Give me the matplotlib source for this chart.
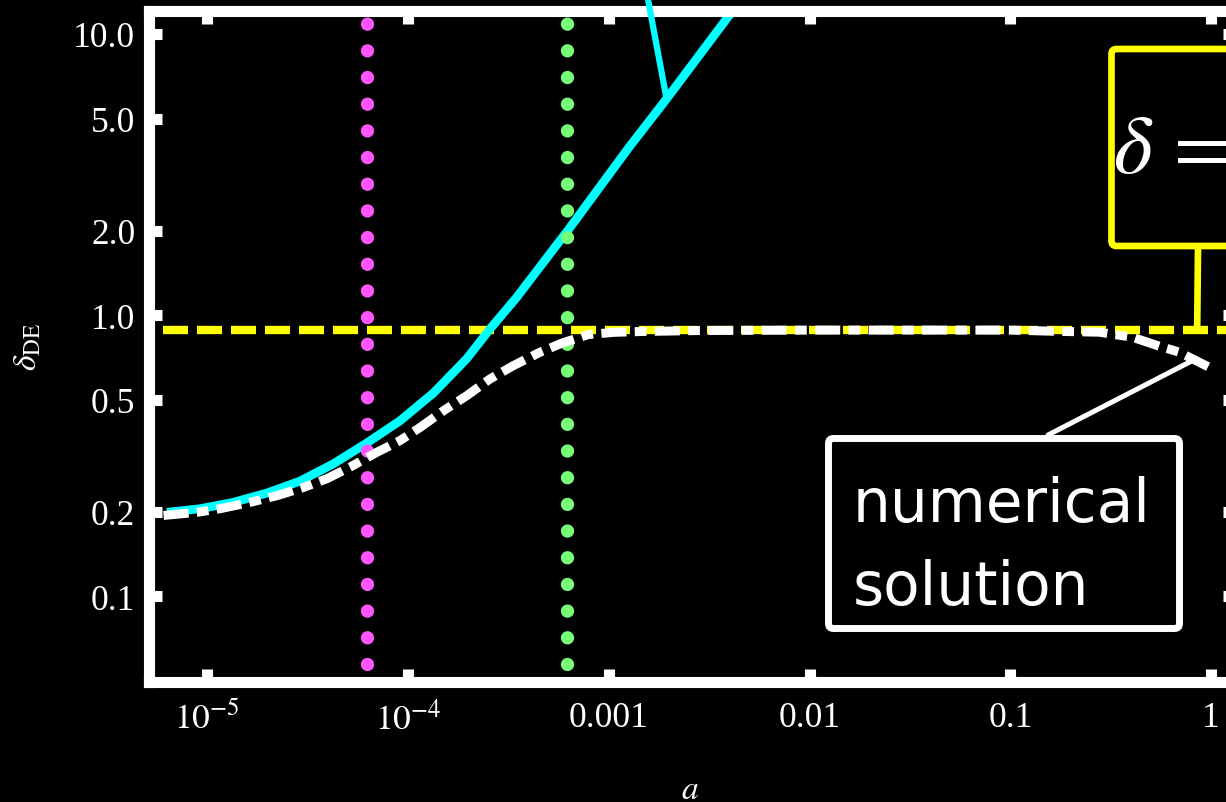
import matplotlib
matplotlib.use('Agg')
import matplotlib.pyplot as plt
from matplotlib.patches import FancyBboxPatch
from matplotlib.ticker import NullLocator

plt.rcParams['font.family'] = 'Liberation Serif'
plt.rcParams['mathtext.fontset'] = 'stix'

# attractor (analytic) approximation
a_approx = [6.3e-6, 9.23e-6, 1.35e-5, 1.98e-5, 2.90e-5, 4.25e-5, 6.23e-5, 9.12e-5,
            1.34e-4, 1.96e-4, 2.56e-4, 3.48e-4, 5.08e-4, 6.25e-4, 9.0e-4,
            1.26e-3, 1.94e-3, 3.96e-3, 4.49e-3]
delta_approx = [0.199, 0.205, 0.216, 0.233, 0.257, 0.296, 0.351, 0.421,
                0.529, 0.700, 0.893, 1.158, 1.65, 2.00, 2.85,
                3.95, 5.88, 11.6, 13.1]

# numerical solution
a_num = [6.06e-6, 8.89e-6, 1.16e-5, 1.64e-5, 2.22e-5, 3.02e-5, 3.94e-5, 5.14e-5,
         6.98e-5, 9.12e-5, 1.15e-4, 1.50e-4, 1.96e-4, 2.56e-4, 3.34e-4, 4.54e-4,
         5.86e-4, 7.89e-4, 1.06e-3, 1.46e-3, 2.84e-3, 1.0e-2, 0.1, 0.162, 0.277,
         0.405, 0.551, 0.693, 0.977]
delta_num = [0.194, 0.199, 0.205, 0.216, 0.228, 0.244, 0.262, 0.288,
             0.325, 0.358, 0.399, 0.457, 0.517, 0.593, 0.661, 0.738,
             0.796, 0.853, 0.869, 0.875, 0.882, 0.885, 0.885, 0.877, 0.870,
             0.835, 0.776, 0.739, 0.653]

# constant delta level
a_const = [6.0e-6, 1.5]
delta_const = 0.885

# transition epochs
a_magenta = 6.23e-5
a_green = 6.22e-4

xticks = [1e-5, 1e-4, 1e-3, 1e-2, 1e-1, 1]
xticklabels = [r'$10^{-5}$', r'$10^{-4}$', '0.001', '0.01', '0.1', '1']
yticks = [0.1, 0.2, 0.5, 1.0, 2.0, 5.0, 10.0]
yticklabels = ['0.1', '0.2', '0.5', '1.0', '2.0', '5.0', '10.0']

W, H, DPI = 1226, 803, 100


def fpos(x, y):
    # pixel position from top-left -> figure fraction
    return x / W, 1 - y / H


fig = plt.figure(figsize=(W / DPI, H / DPI), dpi=DPI, facecolor='black')
left, right, top, bottom = 148.5, 1236, 11.7, 682.5
ax = fig.add_axes([left / W, 1 - bottom / H, (right - left) / W, (bottom - top) / H])
ax.set_facecolor('black')
ax.set_xscale('log')
ax.set_yscale('log')
ax.set_xlim(5.1e-6, 1.33)
ax.set_ylim(0.0498, 12.1)

# curves
ax.plot(a_const, [delta_const] * len(a_const), color='yellow', lw=6,
        ls=(0, (3.0, 1.08)), zorder=2.0)
ax.plot(a_approx, delta_approx, color='cyan', lw=6.3, zorder=2.1,
        solid_capstyle='butt', solid_joinstyle='round')
for a_v, col in [(a_magenta, '#ff55ff'), (a_green, '#77ff77')]:
    ax.axvline(a_v, color=col, lw=9.6, ls=(0.65, (0.001, 2.0)),
               dash_capstyle='round', zorder=2.2)
ax.plot(a_num, delta_num, color='white', lw=6.5,
        ls=(0, (2.78, 0.92, 1.3, 0.92)), zorder=2.3)

# axes styling
for sp in ax.spines.values():
    sp.set_color('white')
    sp.set_linewidth(8)
ax.set_xticks(xticks)
ax.set_xticklabels(xticklabels)
ax.set_yticks(yticks)
ax.set_yticklabels(yticklabels)
ax.xaxis.set_minor_locator(NullLocator())
ax.yaxis.set_minor_locator(NullLocator())
ax.tick_params(direction='in', length=9.7, width=8, color='white',
               top=True, right=True, labelsize=25.5, labelcolor='white')
ax.tick_params(axis='x', pad=14)
ax.tick_params(axis='y', pad=9.5)

ax.set_xlabel(r'$a$', fontsize=24, color='white')
ax.xaxis.set_label_coords(0.498, -0.139)
ax.set_ylabel(r'$\delta_{\rm DE}$', fontsize=24, color='white')
ax.yaxis.set_label_coords(-0.097, 0.5)

# pointer from the attractor curve to a label above the frame
ax.annotate('', xy=(1.94e-3, 5.88), xycoords='data',
            xytext=fpos(647, -5), textcoords='figure fraction',
            arrowprops=dict(arrowstyle='-', color='cyan', lw=4.5,
                            shrinkA=0, shrinkB=0),
            annotation_clip=False)

# yellow label box for the constant level
ax.annotate('', xy=(0.852, delta_const), xycoords='data',
            xytext=fpos(1198, 250), textcoords='figure fraction',
            arrowprops=dict(arrowstyle='-', color='yellow', lw=4.8,
                            shrinkA=0, shrinkB=0),
            annotation_clip=False)
ybox = FancyBboxPatch((1111.5 / DPI, (H - 247) / DPI), (1400 - 1111.5) / DPI,
                      (247 - 50) / DPI, boxstyle='round,pad=0,rounding_size=0.05',
                      transform=fig.dpi_scale_trans, fc='black', ec='yellow',
                      lw=4.8, zorder=5)
fig.add_artist(ybox)
fig.text(*fpos(1113, 173), r'$\delta\,=$', fontsize=60, color='white',
         ha='left', va='baseline', zorder=6)

# numerical solution label
ax.annotate('', xy=(0.842, 0.70), xycoords='data',
            xytext=fpos(1048, 436), textcoords='figure fraction',
            arrowprops=dict(arrowstyle='-', color='white', lw=3.6,
                            shrinkA=0, shrinkB=0),
            annotation_clip=False)
nbox = FancyBboxPatch((828.5 / DPI, (H - 629.5) / DPI), (1179.5 - 828.5) / DPI,
                      (629.5 - 439.5) / DPI, boxstyle='round,pad=0,rounding_size=0.05',
                      transform=fig.dpi_scale_trans, fc='black', ec='white',
                      lw=5, zorder=5)
fig.add_artist(nbox)
fig.text(*fpos(853, 521.7), 'numerical', family='DejaVu Sans', fontsize=43,
         color='white', ha='left', va='baseline', zorder=6)
fig.text(*fpos(853, 605), 'solution', family='DejaVu Sans', fontsize=43,
         color='white', ha='left', va='baseline', zorder=6)

fig.savefig('out.png', dpi=DPI, facecolor='black')
